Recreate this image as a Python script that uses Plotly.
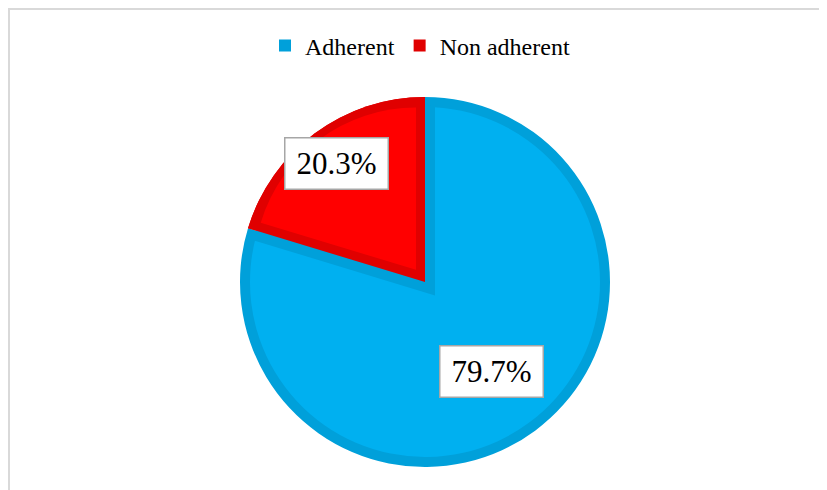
import math
import plotly.graph_objects as go

# ---- data ----
labels = ["Adherent", "Non adherent"]
values = [79.7, 20.3]

# ---- style / layout ----
W, H = 827, 490
OFF = 8                              # page body margin
CX, CY, R = 425 - OFF, 282 - OFF, 185  # pie centre and radius in figure px
border_w = [10, 9]                  # inner border thickness per slice
light = ["#00B0F0", "#FF0000"]
dark = ["#00A0DA", "#E00000"]
clear = "rgba(0,0,0,0)"
label_r = [0.60, 0.80]              # label distance (fraction of radius)
FONT = "Liberation Serif, Times New Roman, serif"

total = sum(values)
spans = [v / total * 360 for v in values]
starts = [sum(spans[:i]) for i in range(len(spans))]
mids = [s + sp / 2 for s, sp in zip(starts, spans)]


def unit(deg):
    a = math.radians(deg)
    return math.sin(a), -math.cos(a)   # screen coords (y down), clockwise from top


def dom(cx, cy, rho):
    return dict(x=[(cx - rho) / W, (cx + rho) / W],
                y=[1 - (cy + rho) / H, 1 - (cy - rho) / H])


def reach(vx, vy, ux, uy, rc):
    b = vx * ux + vy * uy
    return -b + math.sqrt(b * b - (vx * vx + vy * vy) + rc * rc)


def pie(colors, cx, cy, rho, show=False):
    return go.Pie(labels=labels, values=values, sort=False, direction="clockwise",
                  rotation=0, textinfo="none", hoverinfo="label+percent" if show else "skip",
                  marker=dict(colors=colors, line=dict(width=0)),
                  domain=dom(cx, cy, rho), showlegend=show)


fig = go.Figure()

# full pie in border colours
fig.add_trace(pie(dark, CX, CY, R, show=True))
# light blue fill inside outer border
fig.add_trace(pie([light[0], clear], CX, CY, R - border_w[0]))

# blue border along the radial edges: red wedge grown by blue border width
ux, uy = unit(mids[1])
half = math.radians(spans[1] / 2)
d = border_w[0] / math.sin(half)
vx, vy = -d * ux, -d * uy
ex, ey = unit(starts[1])
rho_c = reach(vx, vy, ex, ey, R - border_w[0]) + 2
fig.add_trace(pie([clear, dark[0]], CX + vx, CY + vy, rho_c))

# red wedge in its border colour
fig.add_trace(pie([clear, dark[1]], CX, CY, R))

# light red fill inset by red border width
d = border_w[1] / math.sin(half)
vx, vy = d * ux, d * uy
rc = R - border_w[1]
rho_e = (reach(vx, vy, ux, uy, rc) + reach(vx, vy, ex, ey, rc)) / 2
fig.add_trace(pie([clear, light[1]], CX + vx, CY + vy, rho_e))

# data labels in boxes
for i, v in enumerate(values):
    lx, ly = unit(mids[i])
    px = CX + lx * R * label_r[i]
    py = CY + ly * R * label_r[i]
    fig.add_annotation(x=px / W, y=1 - py / H, xref="paper", yref="paper",
                       xanchor="center", yanchor="middle",
                       text=f"{v:.1f}%", showarrow=False,
                       font=dict(family=FONT, size=31, color="black"),
                       bgcolor="white", bordercolor="#A6A6A6", borderwidth=1.5,
                       borderpad=2, width=98, height=46)

# outer chart frame
fig.add_shape(type="rect", xref="paper", yref="paper",
              x0=1 / W, x1=1.02, y0=-0.02, y1=1 - 1 / H,
              line=dict(color="#D9D9D9", width=2), fillcolor=clear, layer="below")

fig.update_layout(
    width=W, height=H,
    margin=dict(l=0, r=0, t=0, b=0),
    paper_bgcolor="white", plot_bgcolor="white",
    legend=dict(orientation="h", x=(420 - OFF) / W, xanchor="center",
                y=1 - (46 - OFF) / H, yanchor="middle",
                font=dict(family=FONT, size=24, color="black"),
                itemwidth=30, traceorder="normal"),
)

fig.write_html("out.html")
